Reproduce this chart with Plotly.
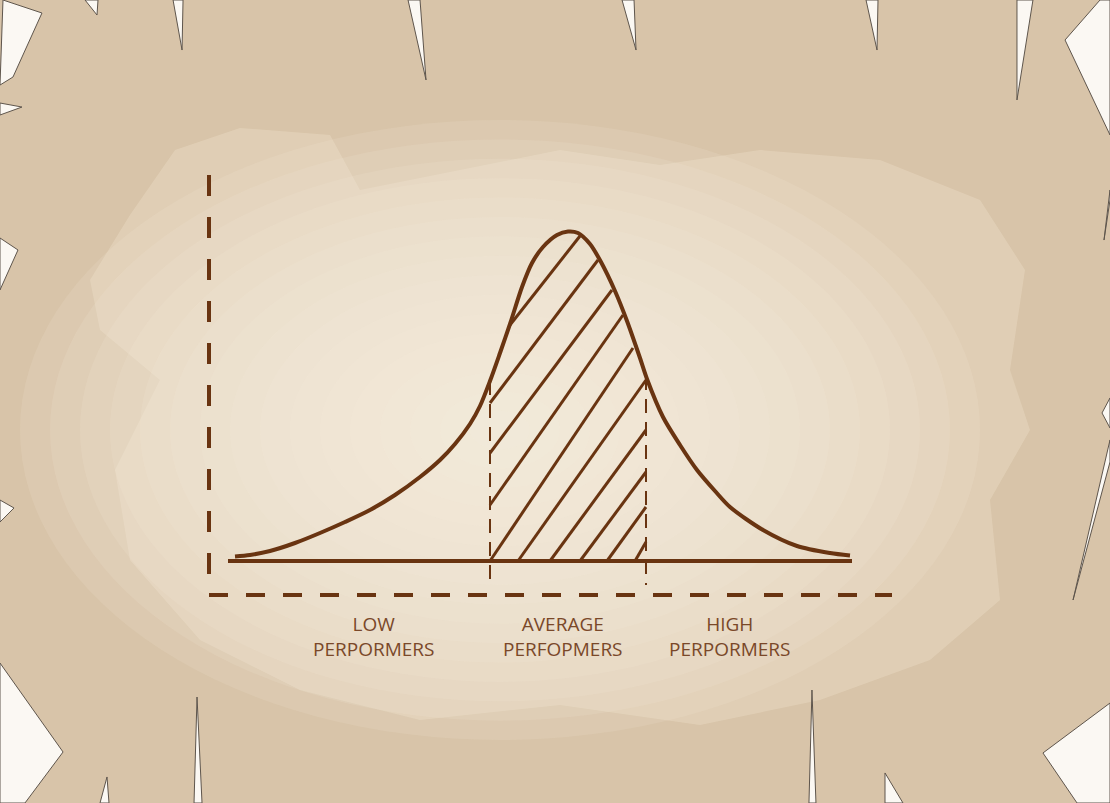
import plotly.graph_objects as go

# ---------------- data (chart units: x = score position, y = frequency height) ----------------
curve_x = [26, 41, 61, 86, 111, 136, 161, 186, 211, 231, 246, 261, 271, 281, 291, 301, 313, 323,
           334, 348, 359, 369, 381, 392, 406, 418, 431, 438, 454, 471, 488, 506, 521, 554, 588, 621, 641]
curve_y = [4.5, 6, 10, 18, 28, 39, 51, 66, 84, 101, 117, 137, 155, 180, 208, 237, 274, 298,
           314, 326, 329.5, 328, 317, 299, 270, 240, 203, 182, 144, 116, 91, 70, 54, 31, 15, 8, 5.5]

groups = ["LOW<br>PERPORMERS", "AVERAGE<br>PERFOPMERS", "HIGH<br>PERPORMERS"]
group_x = [164, 354, 520]
band_edges = [281, 437]

hatch_x0 = [301, 281, 281, 281, 281, 309, 341, 371, 398, 426]
hatch_y0 = [236, 158, 108, 56, 0, 0, 0, 0, 0, 0]
hatch_x1 = [371, 389, 403, 414, 424, 437, 437, 437, 437, 437]
hatch_y1 = [325, 301, 271, 246, 213, 181, 131, 89, 54, 19]

baseline_x = [19, 643]
axis_y_span = [386, -14]
axis_x_span = [0, 683]
axis_x_level = -34

BROWN = "#693411"
TEXT = "#7a4829"

W, H = 1110, 803


def P(px, py):
    return px / W, 1 - py / H


def poly(points):
    s = ""
    for i, (px, py) in enumerate(points):
        x, y = P(px, py)
        s += ("M" if i == 0 else "L") + f"{x:.4f},{y:.4f} "
    return s + "Z"


fig = go.Figure()

# hatch lines
hx, hy = [], []
for a, b, c, d in zip(hatch_x0, hatch_y0, hatch_x1, hatch_y1):
    hx += [a, c, None]
    hy += [b, d, None]
fig.add_trace(go.Scatter(x=hx, y=hy, mode="lines", line=dict(color=BROWN, width=3), hoverinfo="skip"))

# band dashed verticals
for ex in band_edges:
    top = 0
    for i in range(len(curve_x) - 1):
        if curve_x[i] <= ex <= curve_x[i + 1]:
            t = (ex - curve_x[i]) / (curve_x[i + 1] - curve_x[i])
            top = curve_y[i] + t * (curve_y[i + 1] - curve_y[i])
    fig.add_trace(go.Scatter(x=[ex, ex], y=[top, -24], mode="lines",
                             line=dict(color=BROWN, width=2, dash="14px,9px"), hoverinfo="skip"))

# y axis (dashed)
fig.add_trace(go.Scatter(x=[0, 0], y=axis_y_span, mode="lines",
                         line=dict(color=BROWN, width=4, dash="21px,21px"), hoverinfo="skip"))
# x axis (dashed)
fig.add_trace(go.Scatter(x=axis_x_span, y=[axis_x_level, axis_x_level], mode="lines",
                         line=dict(color=BROWN, width=4, dash="19px,18px"), hoverinfo="skip"))
# baseline
fig.add_trace(go.Scatter(x=baseline_x, y=[0, 0], mode="lines",
                         line=dict(color=BROWN, width=4), hoverinfo="skip"))
# bell curve
fig.add_trace(go.Scatter(x=curve_x, y=curve_y, mode="lines",
                         line=dict(color=BROWN, width=4, shape="spline", smoothing=0.8), hoverinfo="skip"))

# labels
for gx, g in zip(group_x, groups):
    fig.add_annotation(x=gx, y=-75.5, text=g, showarrow=False, xanchor="center", yanchor="middle",
                       font=dict(family="Open Sans", size=19, color=TEXT), align="center")

# ---------------- parchment background ----------------
shapes = []
blob = [(90, 280), (130, 215), (175, 150), (240, 128), (330, 135), (360, 190), (460, 170),
        (560, 150), (660, 165), (760, 150), (880, 160), (980, 200), (1025, 270), (1010, 370),
        (1030, 430), (990, 500), (1000, 600), (930, 660), (820, 700), (700, 725), (560, 705),
        (420, 720), (300, 690), (200, 640), (130, 560), (115, 470), (160, 380), (100, 330)]
shapes.append(dict(type="path", path=poly(blob), xref="paper", yref="paper", fillcolor="#e6d6be",
                   line=dict(width=0), layer="below", opacity=0.6))
n_rings = 16
for i in range(n_rings):
    f = 1 - i / n_rings
    rx, ry = 480 * f, 310 * f
    cx, cy = 500, 430
    x0, y0 = P(cx - rx, cy + ry)
    x1, y1 = P(cx + rx, cy - ry)
    shapes.append(dict(type="circle", xref="paper", yref="paper", x0=x0, y0=y0, x1=x1, y1=y1,
                       fillcolor="#f6ecdd", line=dict(width=0), layer="below", opacity=0.13))

notches = [
    [(85, 0), (98, 0), (97, 15)],
    [(173, 0), (183, 0), (182, 50)],
    [(408, 0), (420, 0), (426, 80)],
    [(622, 0), (634, 0), (636, 50)],
    [(866, 0), (878, 0), (877, 50)],
    [(1017, 0), (1033, 0), (1017, 100)],
    [(1065, 40), (1100, 0), (1110, 0), (1110, 135)],
    [(1110, 190), (1110, 200), (1104, 240)],
    [(1110, 398), (1102, 413), (1110, 428)],
    [(1110, 440), (1110, 462), (1073, 600)],
    [(1043, 753), (1110, 703), (1110, 803), (1077, 803)],
    [(885, 773), (903, 803), (885, 803)],
    [(812, 690), (816, 803), (809, 803)],
    [(197, 697), (202, 803), (194, 803)],
    [(107, 777), (109, 803), (100, 803)],
    [(0, 663), (63, 752), (25, 803), (0, 803)],
    [(0, 238), (18, 250), (0, 290)],
    [(0, 500), (14, 508), (0, 522)],
    [(3, 0), (42, 13), (13, 77), (0, 85)],
    [(0, 103), (22, 107), (0, 115)],
]
for n in notches:
    shapes.append(dict(type="path", path=poly(n), xref="paper", yref="paper", fillcolor="#fbf8f3",
                       line=dict(color="#5e554c", width=1), layer="below"))

fig.update_layout(
    width=W, height=H, autosize=False,
    margin=dict(l=0, r=0, t=0, b=0),
    paper_bgcolor="#d8c4a9", plot_bgcolor="rgba(0,0,0,0)",
    showlegend=False,
    xaxis=dict(range=[-209, 901], visible=False, fixedrange=True),
    yaxis=dict(range=[-242, 561], visible=False, fixedrange=True),
    shapes=shapes,
)

fig.write_html("out.html", config={"displayModeBar": False},
               post_script="document.body.style.margin='0';")
